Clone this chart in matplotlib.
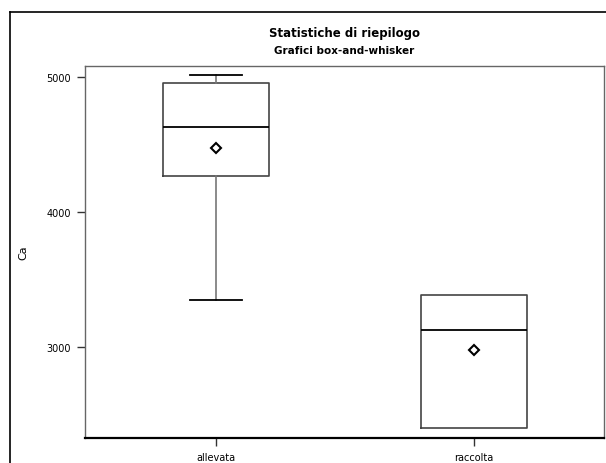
import matplotlib
matplotlib.use("Agg")
import matplotlib.pyplot as plt
from matplotlib.lines import Line2D

categories = ["allevata", "raccolta"]
whisker_low = [3348, 2400]
q1 = [4267, 2400]
median = [4630, 3126]
q3 = [4956, 3385]
whisker_high = [5015, 3385]
mean = [4474, 2978]
yticks = [3000, 4000, 5000]

W, H = 606, 464
fig = plt.figure(figsize=(W / 100, H / 100), dpi=100)
fig.patch.set_facecolor("white")

# outer frame
fig.add_artist(Line2D([10 / W, 1.0], [1 - 13 / H, 1 - 13 / H], transform=fig.transFigure, color="black", lw=1.2))
fig.add_artist(Line2D([10 / W, 10 / W], [0, 1 - 13 / H], transform=fig.transFigure, color="black", lw=1.2))

ax = fig.add_axes([85 / W, 1 - 439 / H, 519 / W, 372 / H])

stats = []
for i, c in enumerate(categories):
    stats.append(dict(label=c, whislo=whisker_low[i], q1=q1[i], med=median[i],
                      q3=q3[i], whishi=whisker_high[i], mean=mean[i], fliers=[]))

pos = [1, 2]
show_caps = [True, False]
for i in range(2):
    ax.bxp([stats[i]], positions=[pos[i]], widths=0.41, showmeans=True, showfliers=False,
           showcaps=show_caps[i], capwidths=0.205,
           boxprops=dict(color="#444444", lw=1.2),
           whiskerprops=dict(color="#777777", lw=1.2),
           capprops=dict(color="black", lw=1.3),
           medianprops=dict(color="black", lw=1.3),
           meanprops=dict(marker="D", markerfacecolor="white", markeredgecolor="black",
                          markersize=5, markeredgewidth=1.5))

ax.set_xlim(0.492, 2.504)
ax.set_ylim(2326, 5081)
ax.set_xticks(pos)
ax.set_xticklabels(categories, fontsize=7)
ax.set_yticks(yticks)
ax.set_yticklabels([str(v) for v in yticks], fontsize=7)
ax.tick_params(axis="both", direction="out", length=6, width=1, color="#333333", pad=4)
ax.set_ylabel("Ca", fontsize=8, labelpad=13)

for s in ["left", "top", "right"]:
    ax.spines[s].set_color("#666666")
    ax.spines[s].set_linewidth(1.0)
ax.spines["bottom"].set_color("black")
ax.spines["bottom"].set_linewidth(1.6)

cx = (85 + 604) / 2 / W
fig.text(cx, 1 - 34 / H, "Statistiche di riepilogo", ha="center", va="center",
         fontsize=8.5, fontweight="bold")
fig.text(cx, 1 - 51 / H, "Grafici box-and-whisker", ha="center", va="center",
         fontsize=7.5, fontweight="bold")

fig.savefig("out.png", dpi=100, facecolor="white")
